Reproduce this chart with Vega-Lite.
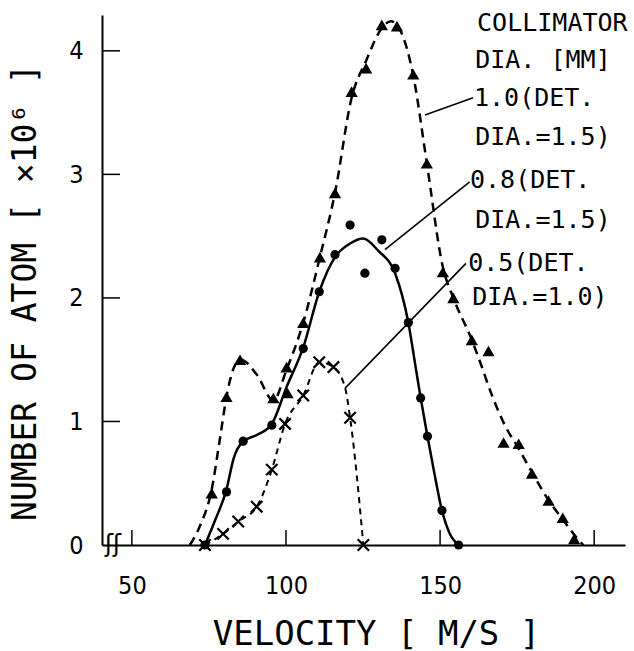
{
  "$schema": "https://vega.github.io/schema/vega-lite/v6.json",
  "width": 523,
  "height": 530,
  "autosize": "none",
  "padding": {"left": 102, "top": 15, "right": 9, "bottom": 106},
  "background": "white",
  "config": {"view": {"stroke": null}},
  "datasets": {
    "curves": [
      {"s": "1.0", "v": 68.8, "n": 0},
      {"s": "1.0", "v": 72, "n": 0.15},
      {"s": "1.0", "v": 75.9, "n": 0.45},
      {"s": "1.0", "v": 78.5, "n": 0.85},
      {"s": "1.0", "v": 80.7, "n": 1.2},
      {"s": "1.0", "v": 83, "n": 1.43},
      {"s": "1.0", "v": 85.3, "n": 1.5},
      {"s": "1.0", "v": 90.5, "n": 1.38},
      {"s": "1.0", "v": 95.9, "n": 1.17},
      {"s": "1.0", "v": 100.2, "n": 1.42},
      {"s": "1.0", "v": 105.6, "n": 1.8},
      {"s": "1.0", "v": 111, "n": 2.33},
      {"s": "1.0", "v": 115.9, "n": 2.85},
      {"s": "1.0", "v": 121.3, "n": 3.62},
      {"s": "1.0", "v": 126, "n": 3.92},
      {"s": "1.0", "v": 131, "n": 4.18},
      {"s": "1.0", "v": 134, "n": 4.24},
      {"s": "1.0", "v": 137, "n": 4.17},
      {"s": "1.0", "v": 141.3, "n": 3.8},
      {"s": "1.0", "v": 145.7, "n": 3.09},
      {"s": "1.0", "v": 150.9, "n": 2.25},
      {"s": "1.0", "v": 154.3, "n": 2.0},
      {"s": "1.0", "v": 160.3, "n": 1.66},
      {"s": "1.0", "v": 163, "n": 1.48},
      {"s": "1.0", "v": 167, "n": 1.2},
      {"s": "1.0", "v": 171, "n": 0.97},
      {"s": "1.0", "v": 175.5, "n": 0.78},
      {"s": "1.0", "v": 180, "n": 0.58},
      {"s": "1.0", "v": 185, "n": 0.37},
      {"s": "1.0", "v": 190, "n": 0.2},
      {"s": "1.0", "v": 195, "n": 0.04},
      {"s": "1.0", "v": 196.5, "n": 0},
      {"s": "0.8", "v": 73.7, "n": 0},
      {"s": "0.8", "v": 77, "n": 0.2},
      {"s": "0.8", "v": 80.7, "n": 0.45},
      {"s": "0.8", "v": 83, "n": 0.7},
      {"s": "0.8", "v": 86.1, "n": 0.84},
      {"s": "0.8", "v": 90.5, "n": 0.89},
      {"s": "0.8", "v": 95.4, "n": 0.98},
      {"s": "0.8", "v": 100.2, "n": 1.28},
      {"s": "0.8", "v": 105.6, "n": 1.6},
      {"s": "0.8", "v": 110.8, "n": 2.05},
      {"s": "0.8", "v": 115.9, "n": 2.33},
      {"s": "0.8", "v": 120.8, "n": 2.44},
      {"s": "0.8", "v": 125, "n": 2.48},
      {"s": "0.8", "v": 130, "n": 2.38},
      {"s": "0.8", "v": 135.4, "n": 2.2},
      {"s": "0.8", "v": 139.7, "n": 1.8},
      {"s": "0.8", "v": 142, "n": 1.45},
      {"s": "0.8", "v": 143.7, "n": 1.19},
      {"s": "0.8", "v": 145.9, "n": 0.88},
      {"s": "0.8", "v": 148, "n": 0.6},
      {"s": "0.8", "v": 150.6, "n": 0.28},
      {"s": "0.8", "v": 153, "n": 0.1},
      {"s": "0.8", "v": 156, "n": 0},
      {"s": "0.5", "v": 73.7, "n": 0},
      {"s": "0.5", "v": 79.6, "n": 0.09},
      {"s": "0.5", "v": 84.5, "n": 0.19},
      {"s": "0.5", "v": 90.5, "n": 0.31},
      {"s": "0.5", "v": 95.4, "n": 0.61},
      {"s": "0.5", "v": 99.7, "n": 0.98},
      {"s": "0.5", "v": 105.6, "n": 1.21},
      {"s": "0.5", "v": 110.8, "n": 1.48},
      {"s": "0.5", "v": 115.4, "n": 1.44},
      {"s": "0.5", "v": 119.2, "n": 1.27},
      {"s": "0.5", "v": 120.8, "n": 1.03},
      {"s": "0.5", "v": 125.1, "n": 0}
    ],
    "markers": [
      {"s": "1.0", "v": 75.9, "n": 0.42},
      {"s": "1.0", "v": 80.7, "n": 1.2},
      {"s": "1.0", "v": 85.1, "n": 1.5},
      {"s": "1.0", "v": 95.9, "n": 1.19},
      {"s": "1.0", "v": 100.2, "n": 1.44},
      {"s": "1.0", "v": 100.5, "n": 1.23},
      {"s": "1.0", "v": 105.6, "n": 1.8},
      {"s": "1.0", "v": 111, "n": 2.33},
      {"s": "1.0", "v": 115.9, "n": 2.85},
      {"s": "1.0", "v": 121.3, "n": 3.67},
      {"s": "1.0", "v": 126, "n": 3.86},
      {"s": "1.0", "v": 131.1, "n": 4.21},
      {"s": "1.0", "v": 136, "n": 4.2},
      {"s": "1.0", "v": 141.3, "n": 3.81},
      {"s": "1.0", "v": 145.7, "n": 3.09},
      {"s": "1.0", "v": 150.9, "n": 2.21},
      {"s": "1.0", "v": 154.3, "n": 2.0},
      {"s": "1.0", "v": 160.3, "n": 1.66},
      {"s": "1.0", "v": 165.7, "n": 1.57},
      {"s": "1.0", "v": 170.6, "n": 0.83},
      {"s": "1.0", "v": 175.5, "n": 0.82},
      {"s": "1.0", "v": 179.8, "n": 0.58},
      {"s": "1.0", "v": 185.2, "n": 0.36},
      {"s": "1.0", "v": 189.8, "n": 0.22},
      {"s": "1.0", "v": 193.5, "n": 0.05},
      {"s": "0.8", "v": 73.7, "n": 0},
      {"s": "0.8", "v": 80.7, "n": 0.43},
      {"s": "0.8", "v": 86.1, "n": 0.84},
      {"s": "0.8", "v": 95.4, "n": 0.97},
      {"s": "0.8", "v": 105.6, "n": 1.59},
      {"s": "0.8", "v": 110.8, "n": 2.05},
      {"s": "0.8", "v": 115.9, "n": 2.35},
      {"s": "0.8", "v": 120.8, "n": 2.59},
      {"s": "0.8", "v": 125.6, "n": 2.2},
      {"s": "0.8", "v": 131.1, "n": 2.47},
      {"s": "0.8", "v": 135.4, "n": 2.24},
      {"s": "0.8", "v": 139.7, "n": 1.8},
      {"s": "0.8", "v": 143.7, "n": 1.19},
      {"s": "0.8", "v": 145.9, "n": 0.88},
      {"s": "0.8", "v": 150.6, "n": 0.28},
      {"s": "0.8", "v": 156, "n": 0},
      {"s": "0.5", "v": 73.7, "n": 0},
      {"s": "0.5", "v": 79.6, "n": 0.09},
      {"s": "0.5", "v": 84.5, "n": 0.19},
      {"s": "0.5", "v": 90.5, "n": 0.31},
      {"s": "0.5", "v": 95.4, "n": 0.61},
      {"s": "0.5", "v": 99.7, "n": 0.98},
      {"s": "0.5", "v": 105.6, "n": 1.21},
      {"s": "0.5", "v": 110.8, "n": 1.48},
      {"s": "0.5", "v": 115.4, "n": 1.44},
      {"s": "0.5", "v": 120.8, "n": 1.03},
      {"s": "0.5", "v": 125.1, "n": 0}
    ],
    "leaders": [
      {"v": 145.1, "n": 3.48, "v2": 160.7, "n2": 3.62},
      {"v": 132.1, "n": 2.39, "v2": 159.6, "n2": 2.94},
      {"v": 119.2, "n": 1.27, "v2": 158.4, "n2": 2.28}
    ],
    "labels": [
      {"t": "COLLIMATOR", "v": 162.0, "n": 4.227},
      {"t": "DIA. [MM]", "v": 161.4, "n": 3.927},
      {"t": "1.0(DET.", "v": 161.0, "n": 3.619},
      {"t": "DIA.=1.5)", "v": 161.4, "n": 3.304},
      {"t": "0.8(DET.", "v": 159.7, "n": 2.955},
      {"t": "DIA.=1.5)", "v": 161.4, "n": 2.632},
      {"t": "0.5(DET.", "v": 159.1, "n": 2.283},
      {"t": "DIA.=1.0)", "v": 160.4, "n": 2.008}
    ],
    "xticks": [{"v": 50, "n": 0}, {"v": 100, "n": 0}, {"v": 150, "n": 0}, {"v": 200, "n": 0}],
    "yticks": [{"v": 40.3, "n": 1}, {"v": 40.3, "n": 2}, {"v": 40.3, "n": 3}, {"v": 40.3, "n": 4}],
    "brk": [
      {"t": "ʃʃ", "v": 43.9, "n": 0}
    ]
  },
  "encoding": {
    "x": {
      "field": "v",
      "type": "quantitative",
      "scale": {"domain": [40.3, 210], "nice": false, "zero": false},
      "axis": {
        "values": [50, 100, 150, 200],
        "grid": false,
        "ticks": false,
        "domainColor": "black",
        "domainWidth": 2,
        "labelPadding": 28,
        "labelFont": "DejaVu Sans Condensed, DejaVu Sans",
        "labelFontSize": 25,
        "labelColor": "black",
        "labelFlush": false,
        "title": "VELOCITY [ M/S ]",
        "titleFont": "DejaVu Sans Mono",
        "titleFontSize": 34,
        "titleFontWeight": "normal",
        "titleColor": "black",
        "titleX": 274,
        "titleY": 89,
        "titleBaseline": "middle",
        "titleAlign": "center"
      }
    },
    "y": {
      "field": "n",
      "type": "quantitative",
      "scale": {"domain": [0, 4.29], "nice": false},
      "axis": {
        "values": [0, 1, 2, 3, 4],
        "grid": false,
        "ticks": false,
        "domainColor": "black",
        "domainWidth": 2,
        "labelPadding": 19,
        "labelFont": "DejaVu Sans Condensed, DejaVu Sans",
        "labelFontSize": 25,
        "labelColor": "black",
        "labelFlush": false,
        "title": "NUMBER OF ATOM [ ×10⁶ ]",
        "titleFont": "DejaVu Sans Mono",
        "titleFontSize": 33,
        "titleFontWeight": "normal",
        "titleColor": "black",
        "titleAngle": -90,
        "titleX": -77,
        "titleY": 277,
        "titleBaseline": "middle",
        "titleAlign": "center"
      }
    }
  },
  "layer": [
    {
      "data": {"name": "xticks"},
      "mark": {"type": "tick", "orient": "vertical", "size": 15, "thickness": 1.5, "yOffset": -7.5, "color": "black", "opacity": 1}
    },
    {
      "data": {"name": "yticks"},
      "mark": {"type": "tick", "orient": "horizontal", "size": 18, "thickness": 1.5, "xOffset": 9, "color": "black", "opacity": 1}
    },
    {
      "data": {"name": "curves"},
      "transform": [{"filter": "datum.s == '1.0'"}],
      "mark": {"type": "line", "interpolate": "monotone", "strokeDash": [9, 6], "strokeWidth": 2.5, "color": "black"}
    },
    {
      "data": {"name": "curves"},
      "transform": [{"filter": "datum.s == '0.8'"}],
      "mark": {"type": "line", "interpolate": "monotone", "strokeWidth": 2.5, "color": "black"}
    },
    {
      "data": {"name": "curves"},
      "transform": [{"filter": "datum.s == '0.5'"}],
      "mark": {"type": "line", "interpolate": "monotone", "strokeDash": [6, 5], "strokeWidth": 2, "color": "black"}
    },
    {
      "data": {"name": "leaders"},
      "mark": {"type": "rule", "strokeWidth": 1.6, "color": "black"},
      "encoding": {"x2": {"field": "v2"}, "y2": {"field": "n2"}}
    },
    {
      "data": {"name": "markers"},
      "transform": [{"filter": "datum.s == '1.0'"}],
      "mark": {"type": "point", "shape": "triangle-up", "filled": true, "size": 150, "color": "black", "opacity": 1}
    },
    {
      "data": {"name": "markers"},
      "transform": [{"filter": "datum.s == '0.8'"}],
      "mark": {"type": "point", "shape": "circle", "filled": true, "size": 85, "color": "black", "opacity": 1}
    },
    {
      "data": {"name": "markers"},
      "transform": [{"filter": "datum.s == '0.5'"}],
      "mark": {"type": "point", "shape": "M-1,-1L1,1M1,-1L-1,1", "filled": false, "size": 130, "strokeWidth": 2.2, "color": "black", "opacity": 1}
    },
    {
      "data": {"name": "labels"},
      "mark": {"type": "text", "align": "left", "baseline": "middle", "font": "DejaVu Sans Mono", "fontSize": 25, "color": "black"},
      "encoding": {"text": {"field": "t"}}
    },
    {
      "data": {"name": "brk"},
      "mark": {"type": "text", "align": "center", "baseline": "middle", "font": "DejaVu Sans", "fontSize": 24, "color": "black"},
      "encoding": {"text": {"field": "t"}}
    }
  ]
}
